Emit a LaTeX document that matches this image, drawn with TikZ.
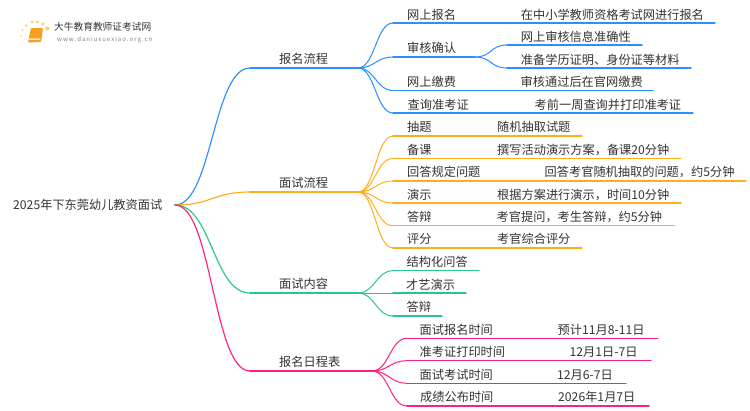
\documentclass[tikz,border=0pt]{standalone}
\usepackage{fontspec}
\setmainfont{Noto Sans CJK SC}
\usetikzlibrary{calc}
\definecolor{cblue}{HTML}{2A8FFF}
\definecolor{corange}{HTML}{FFAE1A}
\definecolor{cgreen}{HTML}{25C985}
\definecolor{cpink}{HTML}{FF1F82}
\definecolor{ctext}{HTML}{333333}
\definecolor{cbook}{HTML}{F5A11E}
\definecolor{cdot}{HTML}{FBD27A}
\tikzset{
  label/.style={anchor=base west,inner sep=0pt,text=ctext,font=\fontsize{12.2}{14}\selectfont},
  big/.style={anchor=base west,inner sep=0pt,text=ctext,font=\fontsize{12.2}{14}\selectfont},
  sweep/.style={out=0,in=180,out distance=37pt,in distance=37pt},
  twig/.style={out=0,in=180,out distance=17pt,in distance=17pt},
  main/.style={line width=1.15pt,line cap=round},
  rule/.style={line width=1.4pt,line cap=round},
  thin/.style={line width=1pt,line cap=round},
}
% \T{name}{x}{centre y}{text}
\newcommand{\T}[4]{\node[label] (#1) at (#2,#3+4.8) {#4};}
\newcommand{\Co}[3]{\coordinate (#1) at (#2,#3);}
\begin{document}
\begin{tikzpicture}[x=1pt,y=-1pt]
\useasboundingbox (0,0) rectangle (750,410);
\fill[white] (0,0) rectangle (750,410);
% logo
\foreach \px/\py/\pr in {47.5/28.5/2.2,43/24/1.8,37.5/22/1.7,32/22/1.6,26/25.5/1.5,22.5/30/1.1,21/36/0.9,23/42/0.7}
  \fill[cdot] (\px,\py) circle (\pr);
\fill[cbook,rounded corners=1pt] (31,28) -- (43,28) -- (41,42) -- (28,42.5) -- cycle;
\fill[white!70!cbook,rounded corners=0.4pt] (28.5,38.3) -- (40.3,38.3) -- (40,39.8) -- (28.5,39.8) -- cycle;
\node[anchor=base west,inner sep=0pt,text=black!80,font=\fontsize{9.7}{12}\selectfont] (logoT) at (54,30.5) {大牛教育教师证考试网};
\node[anchor=base west,inner sep=0pt,text=black!50,font=\fontsize{6}{8}\selectfont] (logoU) at (57,41) {w\,w\,w\,.\,d\,a\,n\,i\,u\,x\,u\,e\,x\,i\,a\,o\,.\,o\,r\,g\,.\,c\,n};
% junctions
\Co{r}{175}{205}
\Co{ja}{358}{68}\Co{jb}{358}{192}\Co{jc}{358}{293}\Co{jd}{372}{371}
\Co{sa}{250}{68}\Co{sb}{250}{192}\Co{sc}{250}{293}\Co{sd}{250}{371}
% main branches
\draw[main,cblue] (r) to[sweep] (sa) -- (ja);
\draw[main,corange] (r) to[sweep] (sb) -- (jb);
\draw[main,cgreen] (r) to[sweep] (sc) -- (jc);
\draw[main,cpink] (r) to[sweep] (sd) -- (jd);
\draw[rule,cblue] (sa) -- (ja);
\draw[rule,corange] (sb) -- (jb);
\draw[rule,cgreen] (sc) -- (jc);
\draw[rule,cpink] (sd) -- (jd);
% blue children
\Co{a1}{393}{23}\Co{a1e}{715}{23}
\Co{a2}{393}{57}\Co{a2j}{475}{57}
\Co{a21}{507}{45}\Co{a21e}{642}{45}
\Co{a22}{507}{68}\Co{a22e}{691}{68}
\Co{a3}{393}{90.5}\Co{a3e}{653}{90.5}
\Co{a4}{393}{113}\Co{a4e}{693}{113}
\foreach \s/\e in {a1/a1e,a2/a2j,a3/a3e,a4/a4e}{
  \draw[thin,cblue] (ja) to[twig] (\s);
  \draw[rule,cblue] (\s) -- (\e);}
\foreach \s/\e in {a21/a21e,a22/a22e}{
  \draw[thin,cblue] (a2j) to[twig] (\s);
  \draw[rule,cblue] (\s) -- (\e);}
% orange children
\Co{b1}{393}{136}\Co{b1e}{582}{136}
\Co{b2}{393}{158.5}\Co{b2e}{681}{158.5}
\Co{b3}{393}{181}\Co{b3e}{746}{181}
\Co{b4}{393}{203}\Co{b4e}{681}{203}
\Co{b5}{393}{225.7}\Co{b5e}{674}{225.7}
\Co{b6}{393}{248}\Co{b6e}{582}{248}
\foreach \s/\e in {b1/b1e,b2/b2e,b3/b3e,b4/b4e,b5/b5e,b6/b6e}{
  \draw[thin,corange] (jb) to[twig] (\s);
  \draw[rule,corange] (\s) -- (\e);}
% green children
\Co{c1}{393}{270.7}\Co{c1e}{479}{270.7}
\Co{c2}{393}{293}\Co{c2e}{466}{293}
\Co{c3}{393}{316}\Co{c3e}{442}{316}
\foreach \s/\e in {c1/c1e,c2/c2e,c3/c3e}{
  \draw[thin,cgreen] (jc) to[twig] (\s);
  \draw[rule,cgreen] (\s) -- (\e);}
% pink children
\Co{d1}{407}{338.3}\Co{d1e}{658}{338.3}
\Co{d2}{407}{360.7}\Co{d2e}{651}{360.7}
\Co{d3}{407}{383.3}\Co{d3e}{626}{383.3}
\Co{d4}{407}{406}\Co{d4e}{649}{406}
\foreach \s/\e in {d1/d1e,d2/d2e,d3/d3e,d4/d4e}{
  \draw[thin,cpink] (jd) to[twig] (\s);
  \draw[rule,cpink] (\s) -- (\e);}
% texts
\node[big] (root) at (13,209.8) {2025年下东莞幼儿教资面试};
\T{t1}{279}{59}{报名流程}
\T{t2}{279}{183}{面试流程}
\T{t3}{279}{284}{面试内容}
\T{t4}{279}{362}{报名日程表}
\T{ta1}{407}{14.5}{网上报名}
\T{ta1x}{520.7}{14.5}{在中小学教师资格考试网进行报名}
\T{ta2}{407}{48}{审核确认}
\T{ta21}{520.7}{37}{网上审核信息准确性}
\T{ta22}{520.7}{59.5}{准备学历证明、身份证等材料}
\T{ta3}{407}{81.5}{网上缴费}
\T{ta3x}{520.5}{81.5}{审核通过后在官网缴费}
\T{ta4}{407.5}{104.5}{查询准考证}
\T{ta4x}{534.5}{104.5}{考前一周查询并打印准考证}
\T{tb1}{407}{127}{抽题}
\T{tb1x}{497}{127}{随机抽取试题}
\T{tb2}{407}{149.5}{备课}
\T{tb2x}{497}{149.5}{撰写活动演示方案，备课20分钟}
\T{tb3}{407}{172}{回答规定问题}
\T{tb3x}{544.5}{172}{回答考官随机抽取的问题，约5分钟}
\T{tb4}{407}{194.5}{演示}
\T{tb4x}{497}{194.5}{根据方案进行演示，时间10分钟}
\T{tb5}{407}{216.5}{答辩}
\T{tb5x}{496.5}{216.5}{考官提问，考生答辩，约5分钟}
\T{tb6}{407}{239}{评分}
\T{tb6x}{497}{239}{考官综合评分}
\T{tc1}{406.5}{261.5}{结构化问答}
\T{tc2}{406}{284.5}{才艺演示}
\T{tc3}{406.5}{307}{答辩}
\T{td1}{419.5}{329.5}{面试报名时间}
\T{td1x}{557.5}{329.5}{预计11月8-11日}
\T{td2}{419.5}{351.5}{准考证打印时间}
\T{td2x}{569.5}{351.5}{12月1日-7日}
\T{td3}{419.5}{374.5}{面试考试时间}
\T{td3x}{557}{374.5}{12月6-7日}
\T{td4}{420}{397}{成绩公布时间}
\T{td4x}{558}{397}{2026年1月7日}
\end{tikzpicture}
\end{document}
